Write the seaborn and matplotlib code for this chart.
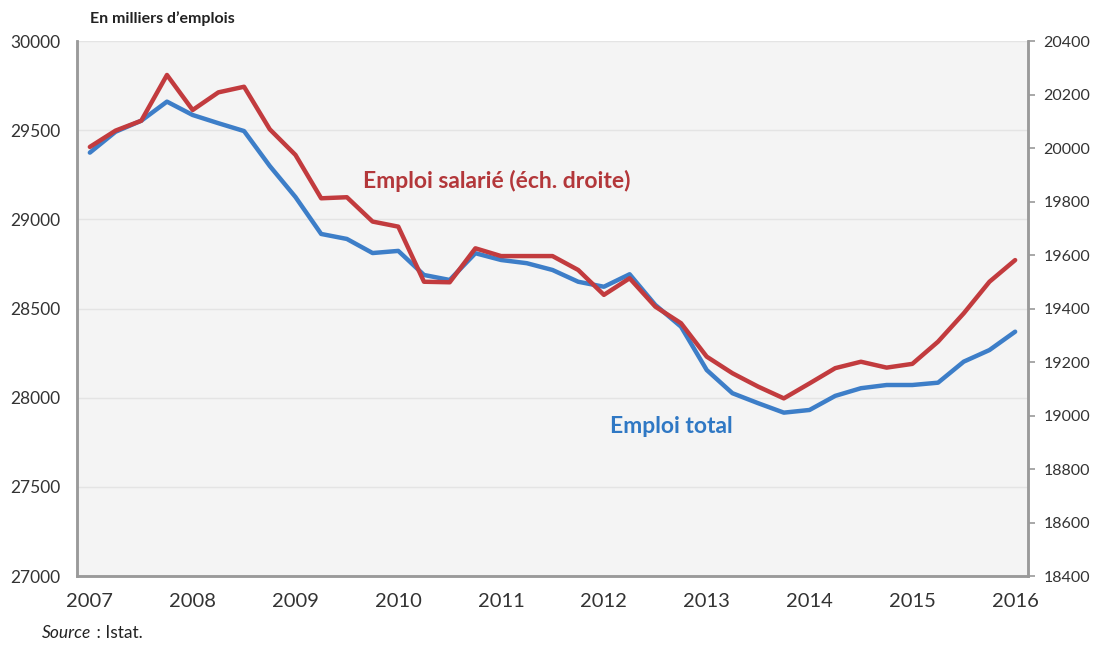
import numpy as np
import pandas as pd
import matplotlib
matplotlib.use("Agg")
import matplotlib.pyplot as plt
import seaborn as sns

# quarterly data, 2007T1 .. 2016T1 (thousands of jobs)
emploi_total = [29374, 29491, 29553, 29660, 29585, 29539, 29495, 29299, 29125, 28918,
                28890, 28811, 28823, 28688, 28660, 28810, 28772, 28754, 28716, 28650,
                28622, 28692, 28520, 28398, 28155, 28025, 27969, 27916, 27931, 28010,
                28053, 28071, 28071, 28084, 28202, 28267, 28370]
emploi_salarie = [20004, 20065, 20102, 20273, 20142, 20208, 20229, 20070, 19974, 19812,
                  19816, 19725, 19706, 19500, 19498, 19625, 19596, 19596, 19596, 19544,
                  19451, 19513, 19407, 19345, 19220, 19158, 19108, 19064, 19120, 19177,
                  19201, 19179, 19193, 19276, 19382, 19500, 19581]
annees = ["2007", "2008", "2009", "2010", "2011", "2012", "2013", "2014", "2015", "2016"]
yticks_gauche = [27000, 27500, 28000, 28500, 29000, 29500, 30000]
yticks_droite = [18400, 18600, 18800, 19000, 19200, 19400, 19600, 19800, 20000, 20200, 20400]

BLEU = "#3d7ec8"
ROUGE = "#c23b3e"
GRIS = "#9a9a9a"

df = pd.DataFrame({
    "trimestre": np.arange(len(emploi_total)),
    "total": emploi_total,
    "salarie": emploi_salarie,
})

sns.set_style("white")
plt.rcParams["font.family"] = ["Lato", "DejaVu Sans"]

fig = plt.figure(figsize=(10.94, 6.46), dpi=100)
ax = fig.add_axes([77 / 1094, 70 / 646, 951 / 1094, 535 / 646])
ax.set_facecolor("#f4f4f4")
ax2 = ax.twinx()

sns.lineplot(data=df, x="trimestre", y="total", ax=ax, color=BLEU, linewidth=3.2, zorder=3)
sns.lineplot(data=df, x="trimestre", y="salarie", ax=ax2, color=ROUGE, linewidth=3.2, zorder=3)

n = len(emploi_total)
ax.set_xlim(-0.5, n - 0.5)
ax.set_ylim(27000, 30000)
ax2.set_ylim(18400, 20400)

ax.set_yticks(yticks_gauche)
ax.set_yticklabels([str(v) for v in yticks_gauche], fontsize=12.5, color="#333333")
ax2.set_yticks(yticks_droite)
ax2.set_yticklabels([str(v) for v in yticks_droite], fontsize=11.5, color="#333333")

# year labels at first quarter, ticks on boundaries between years
ax.set_xticks(np.arange(0, n, 4))
ax.set_xticklabels(annees, fontsize=14.5, color="#333333")
ax.set_xticks(np.arange(-0.5, n, 4), minor=True)
ax.tick_params(axis="x", which="major", length=0, pad=12)
ax.tick_params(axis="x", which="minor", length=7, color="#c8c8c8", width=1.2)
ax.tick_params(axis="y", length=0, pad=12)
ax2.tick_params(axis="y", length=5, color=GRIS, width=1.2, pad=6)

ax.grid(axis="y", color="#e4e4e4", linewidth=1)
ax.set_axisbelow(True)
ax.set_xlabel("")
ax.set_ylabel("")
ax2.set_ylabel("")

for a in (ax, ax2):
    a.spines["top"].set_visible(False)
    for s in ("left", "right", "bottom"):
        a.spines[s].set_color(GRIS)
        a.spines[s].set_linewidth(1.8)

ax.text(0.301, 0.738, "Emploi salarié (éch. droite)", transform=ax.transAxes,
        color="#b3373a", fontsize=16.5, fontweight="bold", va="center", ha="left")
ax.text(0.560, 0.280, "Emploi total", transform=ax.transAxes,
        color="#2f78c4", fontsize=16.5, fontweight="bold", va="center", ha="left")

fig.text(90 / 1094, 1 - 19 / 646, "En milliers d\u2019emplois", fontsize=11.5, fontweight="bold",
         color="#222222", va="center", ha="left")
src = fig.text(42 / 1094, 1 - 633 / 646, "Source", fontsize=12.5, style="italic", color="#222222",
               va="center", ha="left")
fig.text(0, 0, "\u00a0: Istat.", fontsize=12.5, color="#222222", va="center", ha="left",
         transform=matplotlib.transforms.offset_copy(src.get_transform(), fig=fig, x=0, y=0))
plt.draw()
bb = src.get_window_extent(renderer=fig.canvas.get_renderer())
fig.texts[-1].set_transform(matplotlib.transforms.IdentityTransform())
fig.texts[-1].set_position((bb.x1 + 1, (bb.y0 + bb.y1) / 2))

fig.savefig("out.png", dpi=100, facecolor="white")
